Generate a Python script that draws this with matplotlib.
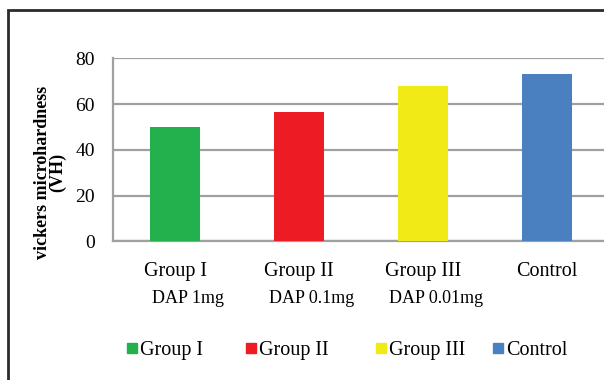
import matplotlib
matplotlib.use("Agg")
import matplotlib.pyplot as plt
from matplotlib.lines import Line2D

groups = ["Group I", "Group II", "Group III", "Control"]
doses = ["DAP 1mg", "DAP 0.1mg", "DAP 0.01mg", ""]
hardness = [50.1, 56.7, 67.8, 73.2]
colors = ["#22B14C", "#ED1C24", "#F2EA17", "#4A80C0"]
yticks = [0, 20, 40, 60, 80]

plt.rcParams["font.family"] = ["Liberation Serif", "DejaVu Serif"]

W, H = 604, 380
fig = plt.figure(figsize=(W / 100, H / 100), dpi=100)

# plot area runs past the right edge of the figure
left, right, top, bottom = 113, 609, 58.3, 241.3
ax = fig.add_axes([left / W, 1 - bottom / H, (right - left) / W, (bottom - top) / H])

x = range(len(groups))
ax.bar(x, hardness, width=0.4, color=colors, zorder=3)

ax.set_xlim(-0.5, 3.5)
ax.set_ylim(0, 80)
ax.set_yticks(yticks)
ax.set_yticklabels([str(t) for t in yticks], fontsize=14)
ax.yaxis.grid(True, color="#a0a0a0", linewidth=1.6, zorder=0)
ax.tick_params(axis="y", length=0, pad=13)
ax.set_xticks(list(x))
ax.set_xticklabels(groups, fontsize=14.5)
ax.tick_params(axis="x", length=0, pad=15)
for side in ["top", "right"]:
    ax.spines[side].set_visible(False)
for side in ["left", "bottom"]:
    ax.spines[side].set_color("#a0a0a0")
    ax.spines[side].set_linewidth(1.6)

# dose line under each group name
for i, d in enumerate(doses):
    if d:
        ax.annotate(d, xy=(i, 0), xycoords=("data", "axes fraction"),
                    xytext=(13, -57), textcoords="offset pixels",
                    ha="center", va="center", fontsize=13)

fig.text(50.5 / W, 1 - 172 / H, "vickers microhardness\n(VH)", rotation=90,
         ha="center", va="center", fontsize=13, fontweight="bold",
         linespacing=0.85, multialignment="center")

# legend row: colour square followed by its group name
legend_x = [127, 246, 376, 493]
square_y = 1 - 348 / H
text_base = 1 - 355 / H
for lx, c, g in zip(legend_x, colors, groups):
    fig.add_artist(Line2D([(lx + 5) / W], [square_y], marker="s", linestyle="none",
                          markersize=7, markerfacecolor=c, markeredgecolor=c,
                          transform=fig.transFigure))
    fig.text((lx + 13) / W, text_base, g, ha="left", va="baseline", fontsize=14.5)

# outer frame (left and top edges)
fig.add_artist(Line2D([8 / W, 8 / W, 1.0], [0.0, 1 - 10 / H, 1 - 10 / H],
                      transform=fig.transFigure, color="#2b2b2b", linewidth=2.0,
                      solid_joinstyle="miter"))

fig.savefig("out.png", dpi=100)
